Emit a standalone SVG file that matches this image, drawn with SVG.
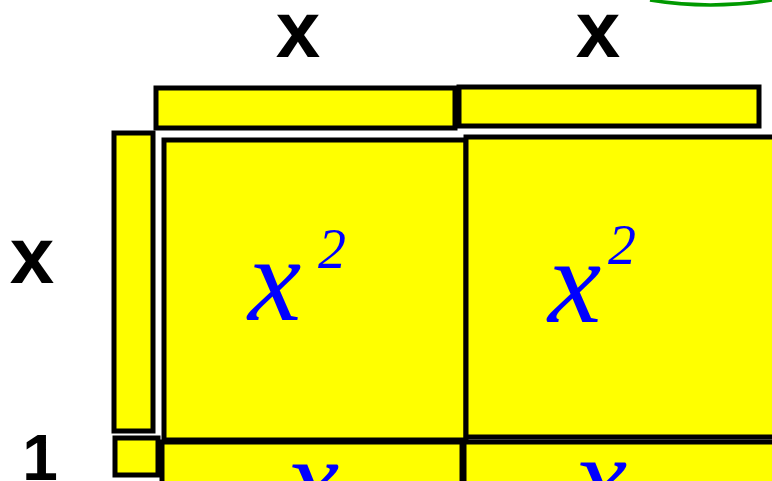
<svg xmlns="http://www.w3.org/2000/svg" width="772" height="481" viewBox="0 0 772 481">
<style>
.tile{fill:#ffff00;stroke:#000;stroke-width:5}
.lbl{font-family:"Liberation Sans",Arial,sans-serif;font-weight:bold;fill:#000}
.hw{font-family:"Liberation Serif","Times New Roman",serif;font-style:italic;fill:#0000ff}
</style>
<rect width="772" height="481" fill="#fff"/>
<path d="M650 0 Q710 10 772 0" fill="none" stroke="#009900" stroke-width="3.5"/>
<g id="label-top-x1"><text class="lbl" x="298" y="57" font-size="80" text-anchor="middle">x</text></g>
<g id="label-top-x2"><text class="lbl" x="598" y="57" font-size="80" text-anchor="middle">x</text></g>
<g id="label-left-x"><text class="lbl" x="32" y="283" font-size="80" text-anchor="middle">x</text></g>
<g id="label-left-1"><text class="lbl" x="40" y="480" font-size="64" text-anchor="middle">1</text></g>
<g id="bar-top-1"><rect class="tile" x="156" y="88" width="299" height="40"/></g>
<g id="bar-top-2"><rect class="tile" x="459" y="87" width="300" height="39"/></g>
<g id="bar-left"><rect class="tile" x="114" y="133" width="39" height="298"/></g>
<g id="unit-square"><rect class="tile" x="115" y="438" width="43" height="37"/></g>
<g id="square-1"><rect class="tile" x="164" y="140" width="302" height="300"/>
<text class="hw" x="248" y="320" font-size="120">x</text><text class="hw" x="318" y="268" font-size="56">2</text></g>
<g id="square-2"><rect class="tile" x="466" y="137" width="312" height="300"/>
<text class="hw" x="548" y="322" font-size="120">x</text><text class="hw" x="608" y="264" font-size="56">2</text></g>
<g id="bar-bottom-1"><rect class="tile" x="162" y="442" width="300" height="45"/>
<text class="hw" x="286" y="520" font-size="120">x</text></g>
<g id="bar-bottom-2"><rect class="tile" x="464" y="442" width="314" height="45"/>
<text class="hw" x="574" y="518" font-size="120">x</text></g>
</svg>
